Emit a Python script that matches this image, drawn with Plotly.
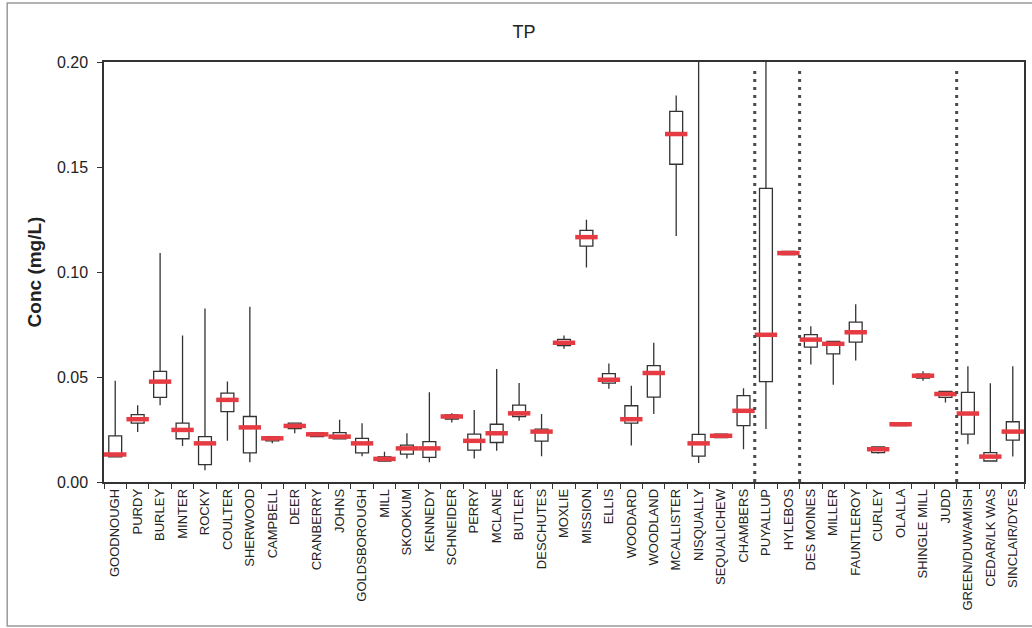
import plotly.graph_objects as go

sites = ["GOODNOUGH", "PURDY", "BURLEY", "MINTER", "ROCKY", "COULTER", "SHERWOOD",
         "CAMPBELL", "DEER", "CRANBERRY", "JOHNS", "GOLDSBOROUGH", "MILL", "SKOOKUM",
         "KENNEDY", "SCHNEIDER", "PERRY", "MCLANE", "BUTLER", "DESCHUTES", "MOXLIE",
         "MISSION", "ELLIS", "WOODARD", "WOODLAND", "MCALLISTER", "NISQUALLY",
         "SEQUALICHEW", "CHAMBERS", "PUYALLUP", "HYLEBOS", "DES MOINES", "MILLER",
         "FAUNTLEROY", "CURLEY", "OLALLA", "SHINGLE MILL", "JUDD", "GREEN/DUWAMISH",
         "CEDAR/LK WAS", "SINCLAIR/DYES"]

lower = [0.012, 0.0238, 0.0366, 0.0171, 0.0056, 0.0196, 0.0094, 0.0184, 0.0232, 0.0216,
         0.0206, 0.0123, 0.0100, 0.0112, 0.0094, 0.0283, 0.0112, 0.0149, 0.0292, 0.0123,
         0.0634, 0.1022, 0.0444, 0.0174, 0.0324, 0.1171, 0.0091, 0.0212, 0.0156, 0.0252,
         0.1083, 0.0559, 0.0463, 0.0578, 0.0135, 0.0268, 0.0482, 0.0379, 0.0180, 0.0100,
         0.0121]
q1 = [0.012, 0.0280, 0.0403, 0.0206, 0.0083, 0.0335, 0.0139, 0.0196, 0.0254, 0.0216,
      0.0206, 0.0139, 0.0100, 0.0133, 0.0117, 0.0300, 0.0152, 0.0188, 0.0312, 0.0195,
      0.0650, 0.1123, 0.0471, 0.0280, 0.0404, 0.1513, 0.0123, 0.0212, 0.0268, 0.0478,
      0.1083, 0.0642, 0.0610, 0.0666, 0.0140, 0.0268, 0.0495, 0.0403, 0.0228, 0.0100,
      0.0199]
median = [0.0131, 0.0299, 0.0478, 0.0248, 0.0184, 0.0391, 0.0260, 0.0208, 0.0267, 0.0227,
          0.0216, 0.0184, 0.0110, 0.0160, 0.0160, 0.0312, 0.0196, 0.0232, 0.0327, 0.0240,
          0.0663, 0.1166, 0.0487, 0.0299, 0.0519, 0.1657, 0.0184, 0.0220, 0.0339, 0.0701,
          0.1090, 0.0678, 0.0658, 0.0713, 0.0156, 0.0275, 0.0506, 0.0419, 0.0326, 0.0121,
          0.0240]
q3 = [0.0220, 0.0321, 0.0527, 0.0280, 0.0216, 0.0423, 0.0312, 0.0216, 0.0280, 0.0235,
      0.0235, 0.0208, 0.0120, 0.0176, 0.0192, 0.0320, 0.0228, 0.0275, 0.0366, 0.0252,
      0.0679, 0.1198, 0.0516, 0.0363, 0.0554, 0.1765, 0.0227, 0.0228, 0.0411, 0.1398,
      0.1098, 0.0702, 0.0669, 0.0761, 0.0167, 0.0283, 0.0514, 0.0432, 0.0427, 0.0140,
      0.0287]
upper = [0.0482, 0.0366, 0.1090, 0.0698, 0.0826, 0.0479, 0.0835, 0.0216, 0.0280, 0.0235,
         0.0296, 0.0280, 0.0144, 0.0232, 0.0427, 0.0327, 0.0343, 0.0538, 0.0471, 0.0324,
         0.0698, 0.1249, 0.0564, 0.0458, 0.0663, 0.1840, 0.2500, 0.0228, 0.0446, 0.2500,
         0.1098, 0.0742, 0.0669, 0.0846, 0.0167, 0.0283, 0.0527, 0.0435, 0.0551, 0.0470,
         0.0551]

separators_after = ["CHAMBERS", "HYLEBOS", "JUDD"]
y_ticks = [0.00, 0.05, 0.10, 0.15, 0.20]

FONT = "Arial, Liberation Sans, sans-serif"

fig = go.Figure()
fig.add_trace(go.Box(
    x=sites, q1=q1, median=median, q3=q3, lowerfence=lower, upperfence=upper,
    fillcolor="white", line=dict(color="#333333", width=1.3), whiskerwidth=0,
    boxpoints=False, showlegend=False, hoverinfo="skip",
))
fig.add_trace(go.Scatter(
    x=sites, y=median, mode="markers", showlegend=False, hoverinfo="skip",
    marker=dict(symbol="line-ew", size=16, color="#e63b42",
                line=dict(color="#e63b42", width=4.5)),
))

for s in separators_after:
    xi = sites.index(s) + 0.5
    fig.add_shape(type="line", xref="x", yref="paper", x0=xi, x1=xi, y0=0, y1=0.985,
                  line=dict(color="#4a4a4a", width=3, dash="3px,5px"))

# outer frame
fig.add_shape(type="rect", xref="paper", yref="paper", x0=-0.1052, x1=1.03,
              y0=-0.343, y1=1.1405, line=dict(color="#9a9a9a", width=1.5))

fig.update_layout(
    width=1032, height=628,
    margin=dict(l=104, r=6, t=62, b=146),
    paper_bgcolor="white", plot_bgcolor="white",
    boxgap=0.18,
    font=dict(family=FONT, color="#222"),
    title=dict(text="TP", x=524 / 1032, xref="container", xanchor="center",
               y=1 - 32 / 628, yref="container", yanchor="middle",
               font=dict(size=18, family=FONT, color="#222")),
    xaxis=dict(type="category", tickangle=-90, tickfont=dict(size=13, family=FONT),
               ticks="outside", ticklen=5, tickson="boundaries", tickcolor="#333",
               showline=True, linecolor="#333", linewidth=1.5, mirror=True,
               showgrid=False, range=[-0.5, len(sites) - 0.5]),
    yaxis=dict(range=[0, 0.2], tickvals=y_ticks, tickformat=".2f",
               tickfont=dict(size=16, family=FONT), ticks="outside", ticklen=5,
               tickcolor="#333", ticklabelstandoff=6,
               showline=True, linecolor="#333", linewidth=1.5, mirror=True,
               showgrid=False, zeroline=False,
               title=dict(text="<b>Conc (mg/L)</b>", standoff=10,
                          font=dict(size=19, family=FONT, color="#222"))),
)

fig.write_html("out.html", config={"displayModeBar": False},
               post_script="document.body.style.margin='0';")
